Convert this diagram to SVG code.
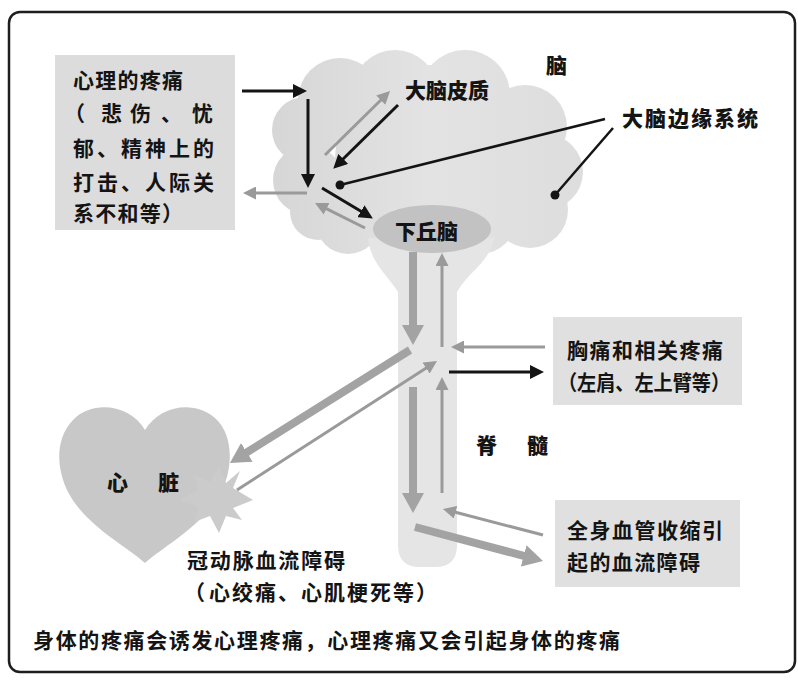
<svg xmlns="http://www.w3.org/2000/svg" width="798" height="681" viewBox="0 0 798 681">
  <defs>
    <style>
      text { font-family: "Noto Sans CJK SC", "Noto Sans", sans-serif; fill: #141414; }
      .box-text { font-size: 21px; font-weight: 700; }
      .label { font-size: 21px; font-weight: 900; }
      .desc { font-size: 21px; font-weight: 700; }
      .blk { stroke: #141414; stroke-width: 3; fill: none; }
      .thin { stroke: #9a9a9a; stroke-width: 3; fill: none; }
      .thick { stroke: #a3a3a3; stroke-width: 8; fill: none; }
      .panel { fill: #dcdcdc; }
    </style>
    <marker id="head-black" markerWidth="14" markerHeight="14" refX="2" refY="7" orient="auto" markerUnits="userSpaceOnUse">
      <path d="M0,0 L14,7 L0,14 Z" fill="#141414"/>
    </marker>
    <marker id="head-gray" markerWidth="13" markerHeight="13" refX="2" refY="6.5" orient="auto" markerUnits="userSpaceOnUse">
      <path d="M0,0 L13,6.5 L0,13 Z" fill="#9a9a9a"/>
    </marker>
    <marker id="head-wide" markerWidth="20" markerHeight="22" refX="2" refY="11" orient="auto" markerUnits="userSpaceOnUse">
      <path d="M0,0 L20,11 L0,22 Z" fill="#a3a3a3"/>
    </marker>
    <linearGradient id="brain-fill" gradientUnits="userSpaceOnUse" x1="270" y1="0" x2="590" y2="0">
      <stop offset="0" stop-color="#d6d6d6"/>
      <stop offset="0.5" stop-color="#e3e3e3"/>
      <stop offset="1" stop-color="#dddddd"/>
    </linearGradient>
    <linearGradient id="fissure" x1="0" y1="0" x2="0" y2="1">
      <stop offset="0" stop-color="#ffffff" stop-opacity="1"/>
      <stop offset="0.7" stop-color="#ffffff" stop-opacity="0.8"/>
      <stop offset="1" stop-color="#ffffff" stop-opacity="0"/>
    </linearGradient>
  </defs>

  <!-- outer frame -->
  <rect x="9" y="12" width="786" height="660" rx="11" fill="#ffffff" stroke="#1e1e1e" stroke-width="2.5"/>

  <!-- brain: lobed cloud -->
  <g id="brain">
    <g fill="url(#brain-fill)">
      <circle cx="340" cy="100" r="42"/>
      <circle cx="395" cy="93" r="43"/>
      <circle cx="465" cy="95" r="45"/>
      <circle cx="525" cy="127" r="42"/>
      <circle cx="545" cy="172" r="38"/>
      <circle cx="530" cy="210" r="38"/>
      <circle cx="480" cy="218" r="36"/>
      <circle cx="305" cy="130" r="33"/>
      <circle cx="308" cy="180" r="35"/>
      <circle cx="318" cy="212" r="28"/>
      <circle cx="348" cy="222" r="32"/>
      <circle cx="430" cy="160" r="95"/>
    </g>
    <path d="M428,52 L428,185" stroke="url(#fissure)" stroke-width="3"/>
    <text class="label" x="546" y="73">脑</text>
    <text class="label" x="405" y="98" font-size="22">大脑皮质</text>
    <text class="label" x="622" y="126" font-size="22" textLength="136">大脑边缘系统</text>
  </g>

  <!-- spinal cord and brainstem -->
  <g id="spinal-cord">
    <path d="M368,238 L494,238 C490,262 468,272 457,292 L457,545 Q457,567 435,567 L420,567 Q398,567 398,545 L398,292 C388,276 370,262 368,238 Z" fill="#e5e5e5"/>
    <text class="label" x="476" y="453">脊</text>
    <text class="label" x="527" y="453">髓</text>
  </g>

  <!-- hypothalamus -->
  <g id="hypothalamus">
    <ellipse cx="432" cy="229" rx="59" ry="24" fill="#c2c2c2"/>
    <text class="label" x="395" y="239">下丘脑</text>
  </g>

  <!-- heart -->
  <g id="heart">
    <path d="M145,430 C130,404 92,400 73,420 C54,440 57,470 68,492 C86,526 125,545 145,563 C165,545 205,525 222,490 C232,470 235,436 215,418 C195,400 160,405 145,430 Z" fill="#c8c8c8"/>
    <polygon points="253,500 233,508 242,520 226,516 219,533 210,516 194,522 198,507 180,500 198,490 194,475 210,482 219,466 226,483 240,471 233,488" fill="#cbcbcb"/>
    <text class="label" x="107" y="490" font-size="22">心</text>
    <text class="label" x="158" y="490" font-size="22">脏</text>
  </g>

  <!-- psychological pain box -->
  <g id="psychological-pain">
    <rect class="panel" x="55" y="55" width="180" height="175"/>
    <text class="box-text" x="73" y="88" textLength="110">心理的疼痛</text>
    <text class="box-text" y="121"><tspan x="64">（</tspan><tspan x="101">悲</tspan><tspan x="130">伤</tspan><tspan x="161">、</tspan><tspan x="192">忧</tspan></text>
    <text class="box-text" x="73" y="156" textLength="141">郁、精神上的</text>
    <text class="box-text" x="73" y="190" textLength="141">打击、人际关</text>
    <text class="box-text" x="73" y="221" textLength="110">系不和等）</text>
  </g>

  <!-- chest pain box -->
  <g id="chest-pain">
    <rect fill="#e0e0e0" x="553" y="317" width="189" height="88"/>
    <text class="desc" x="567" y="358" textLength="156">胸痛和相关疼痛</text>
    <text class="desc" x="558" y="390" textLength="172" lengthAdjust="spacingAndGlyphs">（左肩、左上臂等）</text>
  </g>

  <!-- systemic vasoconstriction box -->
  <g id="blood-flow">
    <rect fill="#e0e0e0" x="555" y="500" width="185" height="87"/>
    <text class="desc" x="567" y="538" textLength="156">全身血管收缩引</text>
    <text class="desc" x="567" y="570" textLength="133">起的血流障碍</text>
  </g>

  <!-- coronary label -->
  <g id="coronary">
    <text class="desc" x="187" y="568" textLength="158">冠动脉血流障碍</text>
    <text class="desc" y="600"><tspan x="184">（</tspan><tspan x="209" textLength="205">心绞痛、心肌梗死等</tspan><tspan x="416">）</tspan></text>
  </g>

  <!-- caption -->
  <g id="caption">
    <text class="desc" x="33" y="648" textLength="587">身体的疼痛会诱发心理疼痛，心理疼痛又会引起身体的疼痛</text>
  </g>

  <!-- connectors -->
  <g id="connectors">
    <!-- black: psychological pain into the brain -->
    <line class="blk" x1="242" y1="91" x2="295" y2="91" marker-end="url(#head-black)"/>
    <line class="blk" x1="308" y1="99" x2="308" y2="176" marker-end="url(#head-black)"/>
    <line class="blk" x1="398" y1="105" x2="341.8" y2="160.3" marker-end="url(#head-black)"/>
    <line class="blk" x1="322" y1="188" x2="362.6" y2="212.3" marker-end="url(#head-black)"/>
    <line class="blk" x1="449" y1="372" x2="532" y2="372" marker-end="url(#head-black)"/>

    <!-- limbic system pointers -->
    <line x1="340" y1="185" x2="605" y2="119" stroke="#141414" stroke-width="2.5"/>
    <circle cx="340" cy="185" r="4.5" fill="#141414"/>
    <line x1="555" y1="195" x2="613" y2="128" stroke="#141414" stroke-width="2.5"/>
    <circle cx="555" cy="195" r="4.5" fill="#141414"/>

    <!-- thin gray -->
    <line class="thin" x1="307" y1="193" x2="254" y2="193" marker-end="url(#head-gray)"/>
    <line class="thin" x1="325" y1="155" x2="382.2" y2="98.7" marker-end="url(#head-gray)"/>
    <line class="thin" x1="365" y1="228" x2="324.8" y2="207.9" marker-end="url(#head-gray)"/>
    <line class="thin" x1="442" y1="347" x2="442" y2="264" marker-end="url(#head-gray)"/>
    <line class="thin" x1="442" y1="493" x2="442" y2="388" marker-end="url(#head-gray)"/>
    <line class="thin" x1="545" y1="347" x2="462" y2="347" marker-end="url(#head-gray)"/>
    <line class="thin" x1="237" y1="490" x2="427.8" y2="367" marker-end="url(#head-gray)"/>
    <line class="thin" x1="543" y1="535" x2="453.6" y2="511.8" marker-end="url(#head-gray)"/>

    <!-- thick gray -->
    <line class="thick" x1="413" y1="252" x2="413" y2="327" marker-end="url(#head-wide)"/>
    <line class="thick" x1="413" y1="387" x2="413" y2="495" marker-end="url(#head-wide)"/>
    <line class="thick" x1="410" y1="350" x2="245.2" y2="453.4" marker-end="url(#head-wide)"/>
    <line class="thick" x1="415" y1="527" x2="525.6" y2="556.4" marker-end="url(#head-wide)"/>
  </g>
</svg>
